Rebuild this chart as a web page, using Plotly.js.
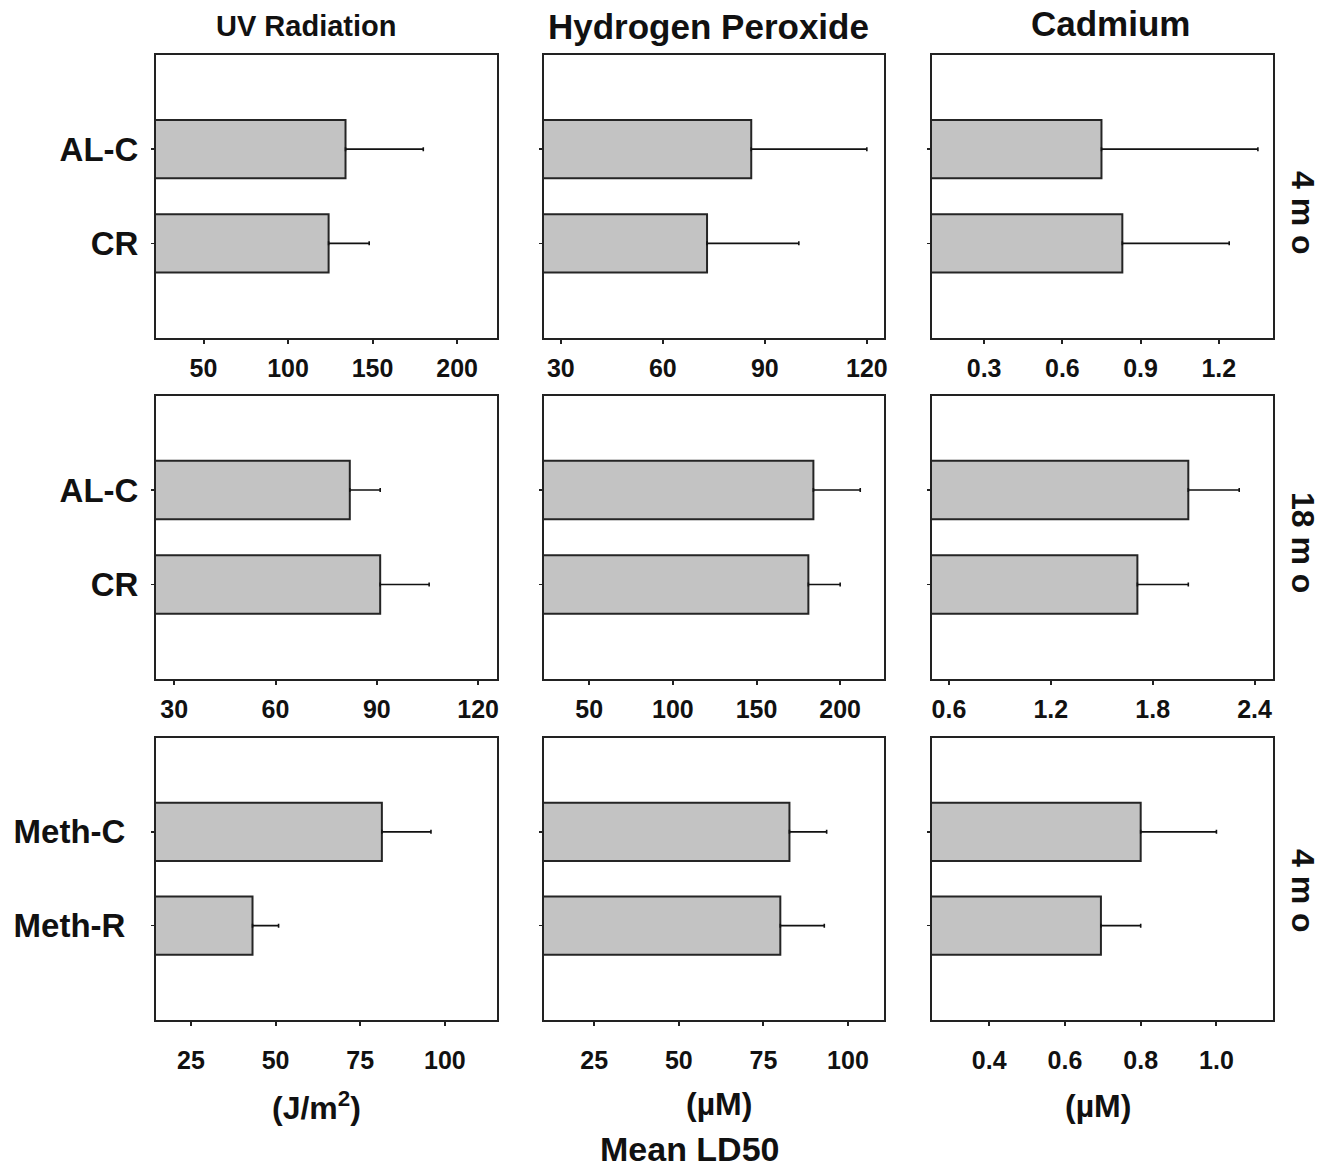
<!DOCTYPE html>
<html>
<head>
<meta charset="utf-8">
<script src="https://cdn.plot.ly/plotly-3.0.1.min.js"></script>
<style>html,body{margin:0;padding:0;background:#fff;} #chart{width:1334px;height:1170px;}</style>
</head>
<body>
<div id="chart"></div>
<script>
// Categories
const catsAL = ['AL-C', 'CR'];
const catsMeth = ['Meth-C', 'Meth-R'];

// Row 1: 4 mo (AL-C vs CR)
const uv4Mean = [134, 124];
const uv4Err = [46, 24];
const hp4Mean = [86, 73];
const hp4Err = [34, 27];
const cd4Mean = [0.75, 0.83];
const cd4Err = [0.60, 0.41];

// Row 2: 18 mo (AL-C vs CR)
const uv18Mean = [82, 91];
const uv18Err = [9, 14.5];
const hp18Mean = [184, 181];
const hp18Err = [28, 19];
const cd18Mean = [2.01, 1.71];
const cd18Err = [0.30, 0.30];

// Row 3: 4 mo (Meth-C vs Meth-R)
const uvMMean = [81.4, 43.2];
const uvMErr = [14.5, 7.7];
const hpMMean = [82.7, 80];
const hpMErr = [11, 13];
const cdMMean = [0.80, 0.695];
const cdMErr = [0.20, 0.105];

// Tick values
const ticksP1 = [50, 100, 150, 200];
const ticksP2 = [30, 60, 90, 120];
const ticksP3 = [0.3, 0.6, 0.9, 1.2];
const ticksP4 = [30, 60, 90, 120];
const ticksP5 = [50, 100, 150, 200];
const ticksP6 = [0.6, 1.2, 1.8, 2.4];
const ticksP7 = [25, 50, 75, 100];
const ticksP8 = [25, 50, 75, 100];
const ticksP9 = [0.4, 0.6, 0.8, 1.0];

const W = 1334, H = 1170;
const colDom = [[156, 497], [543.5, 883.5], [932, 1272.5]];
const rowDom = [[55, 337.5], [395.5, 679], [738, 1019.5]];
const xRanges = [
  [21.9, 223.6], [24.9, 124.9], [0.1, 1.406],
  [24.6, 125.6], [22.7, 225.9], [0.5, 2.506],
  [14.7, 115.4], [10, 110.5], [0.249, 1.148]
];
const tickSets = [ticksP1, ticksP2, ticksP3, ticksP4, ticksP5, ticksP6, ticksP7, ticksP8, ticksP9];
const panels = [
  [catsAL, uv4Mean, uv4Err], [catsAL, hp4Mean, hp4Err], [catsAL, cd4Mean, cd4Err],
  [catsAL, uv18Mean, uv18Err], [catsAL, hp18Mean, hp18Err], [catsAL, cd18Mean, cd18Err],
  [catsMeth, uvMMean, uvMErr], [catsMeth, hpMMean, hpMErr], [catsMeth, cdMMean, cdMErr]
];

const FONT = 'Liberation Sans, Arial, Helvetica, sans-serif';
const AX = '#222';
const data = [];
const layout = {
  width: W, height: H,
  margin: {l: 0, r: 0, t: 0, b: 0},
  paper_bgcolor: '#fff', plot_bgcolor: '#fff',
  showlegend: false,
  font: {family: FONT, color: '#111'},
  annotations: []
};

panels.forEach((p, i) => {
  const r = Math.floor(i / 3), c = i % 3;
  const n = i + 1;
  const xa = n === 1 ? 'x' : 'x' + n;
  const ya = n === 1 ? 'y' : 'y' + n;
  data.push({
    type: 'bar', orientation: 'h',
    y: p[0], x: p[1],
    xaxis: xa, yaxis: ya,
    width: 0.62,
    marker: {color: '#c3c3c3', line: {color: '#252525', width: 2}},
    error_x: {type: 'data', array: p[2], symmetric: false, arrayminus: p[2].map(() => 0),
              color: '#111', thickness: 1.6, width: 2},
    hoverinfo: 'skip'
  });
  const xKey = n === 1 ? 'xaxis' : 'xaxis' + n;
  const yKey = n === 1 ? 'yaxis' : 'yaxis' + n;
  layout[xKey] = {
    domain: [colDom[c][0] / W, colDom[c][1] / W],
    anchor: ya,
    range: xRanges[i],
    tickmode: 'array', tickvals: tickSets[i],
    ticktext: tickSets[i].map(v => (c === 2 ? v.toFixed(1) : String(v))),
    ticks: 'outside', ticklen: 4, tickwidth: 2, tickcolor: AX,
    showline: true, mirror: true, linecolor: AX, linewidth: 2,
    showgrid: false, zeroline: false,
    ticklabelstandoff: r === 2 ? 13 : 3,
    tickfont: {family: FONT, size: 25, weight: 'bold', color: '#111'}
  };
  layout[yKey] = {
    domain: [1 - rowDom[r][1] / H, 1 - rowDom[r][0] / H],
    anchor: xa,
    type: 'category',
    range: [2, -1],
    ticks: 'outside', ticklen: 3, tickwidth: 1.5, tickcolor: AX,
    showline: true, mirror: true, linecolor: AX, linewidth: 2,
    showgrid: false, zeroline: false,
    showticklabels: c === 0,
    ticklabelstandoff: r === 2 ? 19 : 6,
    tickfont: {family: FONT, size: 33, weight: 'bold', color: '#111'}
  };
});

function ann(text, xpx, ypx, size, extra) {
  layout.annotations.push(Object.assign({
    text: text, xref: 'paper', yref: 'paper',
    x: xpx / W, y: 1 - ypx / H, xanchor: 'center', yanchor: 'middle',
    showarrow: false,
    font: {family: FONT, size: size, weight: 'bold', color: '#111'}
  }, extra || {}));
}

// Column titles
ann('UV Radiation', 306, 26, 29);
ann('Hydrogen Peroxide', 708, 26, 35);
ann('Cadmium', 1110, 23, 35);

// Row labels (right)
ann('4 m o', 1303, 213, 32, {textangle: 90});
ann('18 m o', 1303, 542, 32, {textangle: 90});
ann('4 m o', 1303, 891, 32, {textangle: 90});

// Units
ann('(J/m<sup>2</sup>)', 316, 1106, 32);
ann('(µM)', 719, 1104, 32);
ann('(µM)', 1098, 1106, 32);
ann('Mean LD50', 690, 1149, 34);

Plotly.newPlot('chart', data, layout, {staticPlot: true, displayModeBar: false});
</script>
</body>
</html>
